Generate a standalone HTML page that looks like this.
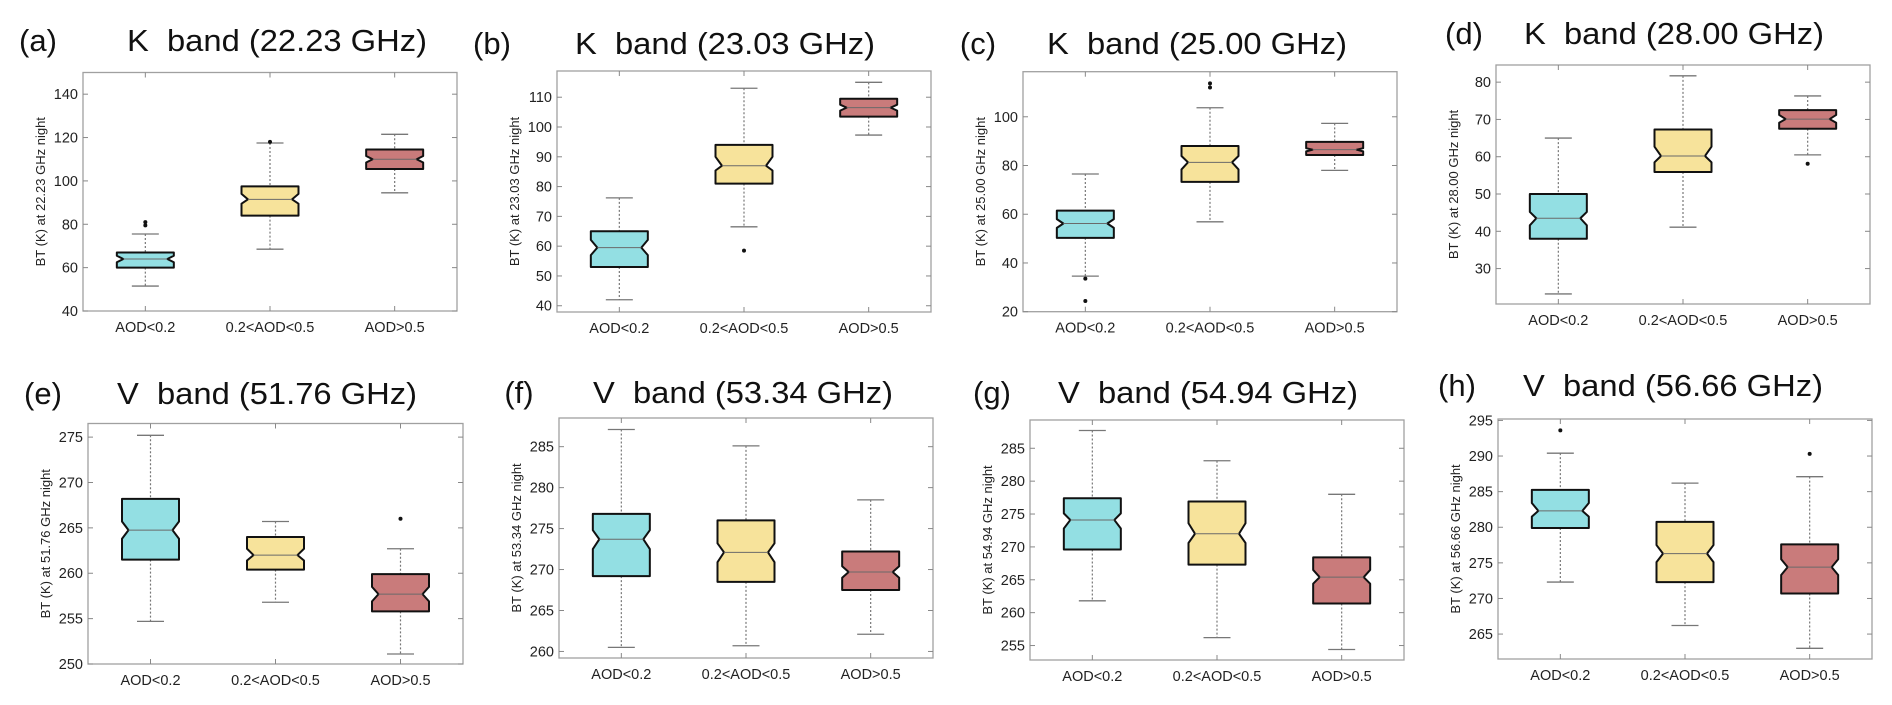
<!DOCTYPE html>
<html><head><meta charset="utf-8"><style>
html,body{margin:0;padding:0;background:#fff;}
svg{display:block;font-family:"Liberation Sans",Arial,sans-serif;}
</style></head>
<body>
<svg id="fig" width="1892" height="705" viewBox="0 0 1892 705" xmlns="http://www.w3.org/2000/svg"></svg>
<script>
// ---- data ----
const categories = ["AOD<0.2", "0.2<AOD<0.5", "AOD>0.5"];
const panelLetters = ["(a)","(b)","(c)","(d)","(e)","(f)","(g)","(h)"];
const panelTitles = ["K\u00a0 band (22.23 GHz)","K\u00a0 band (23.03 GHz)","K\u00a0 band (25.00 GHz)","K\u00a0 band (28.00 GHz)",
                     "V\u00a0 band (51.76 GHz)","V\u00a0 band (53.34 GHz)","V\u00a0 band (54.94 GHz)","V\u00a0 band (56.66 GHz)"];
const yTitles = ["BT (K) at 22.23 GHz night","BT (K) at 23.03 GHz night","BT (K) at 25.00 GHz night","BT (K) at 28.00 GHz night",
                 "BT (K) at 51.76 GHz night","BT (K) at 53.34 GHz night","BT (K) at 54.94 GHz night","BT (K) at 56.66 GHz night"];
const yTicks = [[40,60,80,100,120,140],[40,50,60,70,80,90,100,110],[20,40,60,80,100],[30,40,50,60,70,80],
                [250,255,260,265,270,275],[260,265,270,275,280,285],[255,260,265,270,275,280,285],[265,270,275,280,285,290,295]];
const yMin = [40,37.9,20,20.5,250,259.2,252.8,261.5];
const yMax = [150,118.8,118.5,84.6,276.5,288.5,289.3,295.2];
const q1 = [[60,84,105.5],[53,81,103.5],[50.3,73.3,84.3],[38,55.9,67.5],[261.5,260.4,255.8],[269.2,268.5,267.5],[269.6,267.3,261.4],[279.9,272.3,270.7]];
const q3 = [[67,97.5,114.5],[65,94,109.5],[61.5,88,89.7],[50,67.3,72.5],[268.2,264.0,259.9],[276.8,276.0,272.2],[277.4,276.9,268.4],[285.25,280.75,277.6]];
const medians = [[64,91.5,110],[59.5,87,106.5],[56.2,81.3,86.5],[43.5,60.2,70.1],[264.75,262.0,257.7],[273.7,272.1,269.7],[274.1,272.0,265.4],[282.3,276.3,274.4]];
const notchLo = [[62.5,89.5,108.5],[57,85.4,105.5],[54.4,78.4,85.8],[41.6,58.5,69.1],[263.8,261.4,256.9],[272.5,270.9,269.0],[272.8,270.6,264.4],[281.5,275.1,273.3]];
const notchHi = [[65.5,94,111.5],[62.1,90,107.5],[58,83.9,87.1],[45.2,62.7,71.2],[265.7,262.7,258.5],[274.8,273.2,270.4],[275.1,273.6,266.5],[283.4,277.5,275.5]];
const whiskerLo = [[51.5,68.5,94.5],[42,66.5,97.3],[34.6,56.9,78],[23.2,41.1,60.5],[254.7,256.8,251.1],[260.5,260.7,262.1],[261.8,256.2,254.4],[272.3,266.2,263]];
const whiskerHi = [[75.5,117.5,121.5],[76.2,113,115],[76.5,103.7,97.3],[65,81.7,76.3],[275.2,265.7,262.7],[287.1,285.1,278.5],[287.7,283.1,278.0],[290.4,286.2,287.1]];
const outliers = [[[79.5,81],[118],[]],[[],[58.5],[]],[[33.6,24.4],[113.7,112],[]],[[],[],[58.1]],
                  [[],[],[266]],[[],[],[]],[[],[],[]],[[293.6],[],[290.3]]];
// ---- layout ----
const frames = [[83,72.5,457,311],[557,71,931,312],[1023,71.7,1397,311.7],[1496,65,1870,304],
                [88,423.5,463,664],[559,418,933,658],[1030,420,1404,660],[1498,419,1872,659]];
const titleY = [40,43,43,33,393,392,392,385];
const letterX = [38,492,978,1464,43,519,992,1457];
const titleCX = [277,725,1197,1674,267,743,1208,1673];
const fills = ["#93dfe3","#f7e39b","#c97b7b"];

const NS = "http://www.w3.org/2000/svg";
const svg = document.getElementById("fig");
function mk(tag, attrs, parent){const e=document.createElementNS(NS,tag);for(const k in attrs)e.setAttribute(k,attrs[k]);(parent||svg).appendChild(e);return e;}

for(let p=0;p<8;p++){
  const [L,T,R,B]=frames[p];
  const g=mk("g",{});
  
  
  const yS=v=>B-(v-yMin[p])/(yMax[p]-yMin[p])*(B-T);
  const xS=i=>L+(R-L)*(i+0.5)/3;

  let t=mk("text",{x:letterX[p],y:titleY[p]+11,"font-size":31,"text-anchor":"middle",fill:"#111"},g);
  t.textContent=panelLetters[p];
  
  
  t=mk("text",{x:titleCX[p],y:titleY[p]+11,"font-size":31,"text-anchor":"middle",fill:"#111",textLength:300,lengthAdjust:"spacingAndGlyphs"},g);
  t.textContent=panelTitles[p];
  
  

  const fr=mk("rect",{x:L,y:T,width:R-L,height:B-T,fill:"#fff",stroke:"#a0a0a0","stroke-width":1.3},g);
  
  

  yTicks[p].forEach(v=>{
    const y=yS(v);
    mk("line",{x1:L,x2:L+5,y1:y,y2:y,stroke:"#888","stroke-width":1},g);
    mk("line",{x1:R,x2:R-5,y1:y,y2:y,stroke:"#888","stroke-width":1},g);
    const tl=mk("text",{x:L-5,y:y+5,"font-size":14.5,"text-anchor":"end",fill:"#222"},g);
    tl.textContent=v;
    
    
  });
  const yt=mk("text",{transform:`translate(${L-38},${(T+B)/2}) rotate(-90)`,"font-size":13,"text-anchor":"middle",fill:"#222"},g);
  yt.textContent=yTitles[p];
  
  

  for(let i=0;i<3;i++){
    const cx=xS(i);
    mk("line",{x1:cx,x2:cx,y1:B,y2:B-5,stroke:"#888","stroke-width":1},g);
    mk("line",{x1:cx,x2:cx,y1:T,y2:T+5,stroke:"#888","stroke-width":1},g);
    const xl=mk("text",{x:cx,y:B+21,"font-size":14.5,"text-anchor":"middle",fill:"#222"},g);
    xl.textContent=categories[i];
    
    

    const hw=28.5, ins=6.5, cw=13.5;
    const wl=yS(whiskerLo[p][i]), wh=yS(whiskerHi[p][i]);
    const y1=yS(q1[p][i]), y3=yS(q3[p][i]), ym=yS(medians[p][i]), nl=yS(notchLo[p][i]), nh=yS(notchHi[p][i]);
    const wk=mk("g",{},g);
    
    
    mk("line",{x1:cx,x2:cx,y1:wh,y2:y3,stroke:"#777","stroke-width":1.2,"stroke-dasharray":"2,2"},wk);
    mk("line",{x1:cx,x2:cx,y1:y1,y2:wl,stroke:"#777","stroke-width":1.2,"stroke-dasharray":"2,2"},wk);
    mk("line",{x1:cx-cw,x2:cx+cw,y1:wh,y2:wh,stroke:"#777","stroke-width":1.3},wk);
    mk("line",{x1:cx-cw,x2:cx+cw,y1:wl,y2:wl,stroke:"#777","stroke-width":1.3},wk);
    const pts=[[cx-hw,y3],[cx+hw,y3],[cx+hw,nh],[cx+hw-ins,ym],[cx+hw,nl],[cx+hw,y1],[cx-hw,y1],[cx-hw,nl],[cx-hw+ins,ym],[cx-hw,nh]];
    const box=mk("polygon",{points:pts.map(q=>q.join(",")).join(" "),fill:fills[i],stroke:"#111","stroke-width":2,"stroke-linejoin":"round"},g);
    
    
    const md=mk("line",{x1:cx-hw+ins,x2:cx+hw-ins,y1:ym,y2:ym,stroke:"#6a6a6a","stroke-width":1},g);
    
    
    outliers[p][i].forEach(v=>{
      const o=mk("circle",{cx:cx,cy:yS(v),r:2,fill:"#111"},g);
      
      
    });
  }
}
</script>
</body></html>
